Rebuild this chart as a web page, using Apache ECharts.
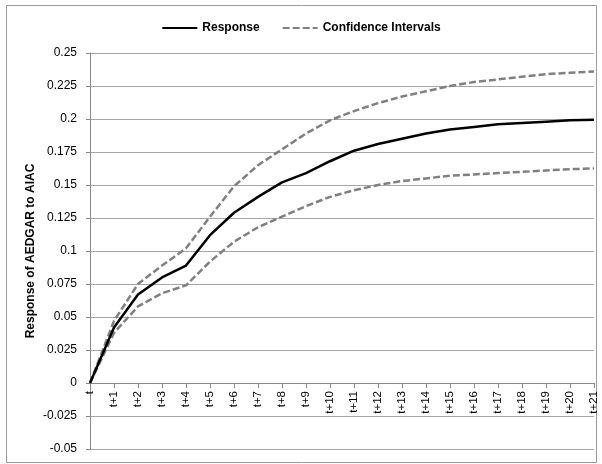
<!DOCTYPE html>
<html>
<head>
<meta charset="utf-8">
<script src="https://cdn.jsdelivr.net/npm/echarts@6/dist/echarts.min.js"></script>
<style>
html,body{margin:0;padding:0;background:#fff;}
#chart{width:602px;height:464px;}
</style>
</head>
<body>
<div id="chart"></div>
<script>
const categories = ['t','t+1','t+2','t+3','t+4','t+5','t+6','t+7','t+8','t+9','t+10','t+11','t+12','t+13','t+14','t+15','t+16','t+17','t+18','t+19','t+20','t+21'];
const response = [0, 0.042, 0.067, 0.080, 0.089, 0.112, 0.129, 0.141, 0.152, 0.159, 0.168, 0.176, 0.181, 0.185, 0.189, 0.192, 0.194, 0.196, 0.197, 0.198, 0.199, 0.1995];
const upperCI = [0, 0.047, 0.075, 0.089, 0.102, 0.126, 0.149, 0.165, 0.177, 0.189, 0.199, 0.206, 0.212, 0.217, 0.221, 0.225, 0.228, 0.230, 0.232, 0.234, 0.235, 0.236];
const lowerCI = [0, 0.038, 0.058, 0.068, 0.074, 0.092, 0.107, 0.118, 0.126, 0.134, 0.141, 0.146, 0.150, 0.153, 0.155, 0.157, 0.158, 0.159, 0.160, 0.161, 0.162, 0.1625];
const yTicks = {min: -0.05, max: 0.25, interval: 0.025};

const gridTop = 53, gridBottom = 15, chartH = 464;
const gridH = chartH - gridTop - gridBottom;
const zeroOffset = -gridH * (0 - yTicks.min) / (yTicks.max - yTicks.min);

const chart = echarts.init(document.getElementById('chart'));
const font = 'Liberation Sans';
chart.setOption({
  backgroundColor: '#fff',
  animation: false,
  graphic: [{
    type: 'rect', shape: {x: 6.5, y: 5.5, width: 590, height: 457},
    style: {fill: 'none', stroke: '#9a9a9a', lineWidth: 1}, silent: true
  }],
  legend: {
    top: 17, left: 'center', itemGap: 22, itemWidth: 35, itemHeight: 10,
    itemStyle: {opacity: 0},
    textStyle: {fontFamily: font, fontSize: 12, fontWeight: 'bold', color: '#000'},
    data: ['Response', 'Confidence Intervals']
  },
  grid: {left: 90, right: 8, top: gridTop, bottom: gridBottom, containLabel: false, outerBoundsMode: 'none'},
  xAxis: {
    type: 'category', data: categories, boundaryGap: false, offset: zeroOffset,
    axisLine: {onZero: false, lineStyle: {color: '#888', width: 1}},
    axisTick: {show: true, alignWithLabel: true, length: 5, lineStyle: {color: '#888'}},
    axisLabel: {rotate: 90, interval: 0, margin: 8, fontFamily: font, fontSize: 11.5, color: '#000'},
    splitLine: {show: false}
  },
  yAxis: {
    type: 'value', min: yTicks.min, max: yTicks.max, interval: yTicks.interval,
    name: 'Response of AEDGAR to AIAC', nameLocation: 'middle', nameGap: 53,
    nameMoveOverlap: false,
    nameTextStyle: {fontFamily: font, fontSize: 12, fontWeight: 'bold', color: '#000'},
    axisLine: {show: true, onZero: false, lineStyle: {color: '#888', width: 1}},
    axisTick: {show: true, length: 4, lineStyle: {color: '#888'}},
    axisLabel: {margin: 13, fontFamily: font, fontSize: 12, color: '#000',
      formatter: v => String(parseFloat(v.toFixed(3)))},
    splitLine: {show: true, lineStyle: {color: '#a6a6a6', width: 1}}
  },
  series: [
    {name: 'Confidence Intervals', type: 'line', data: upperCI, symbol: 'none', z: 2,
     lineStyle: {color: '#808080', width: 2.5, type: [7, 3]}, itemStyle: {color: '#808080'}},
    {name: 'Confidence Intervals', type: 'line', data: lowerCI, symbol: 'none', z: 2,
     lineStyle: {color: '#808080', width: 2.5, type: [7, 3]}, itemStyle: {color: '#808080'}},
    {name: 'Response', type: 'line', data: response, symbol: 'none', z: 3,
     lineStyle: {color: '#000', width: 2.5}, itemStyle: {color: '#000'}}
  ]
});
</script>
</body>
</html>
